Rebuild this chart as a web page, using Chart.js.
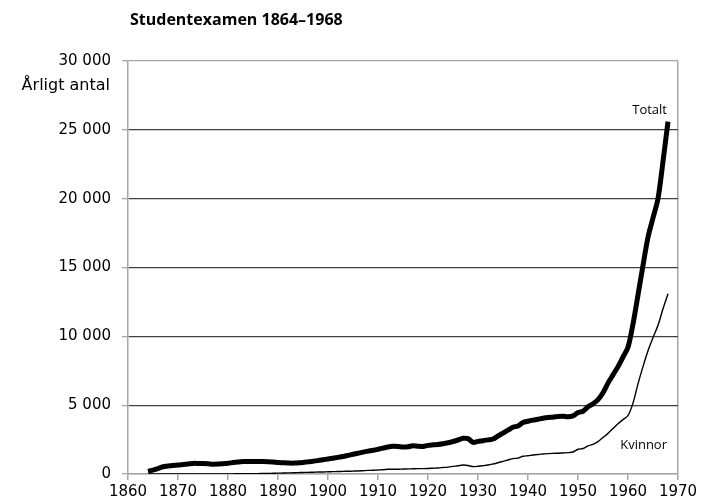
<!DOCTYPE html>
<html>
<head>
<meta charset="utf-8">
<script src="https://cdn.jsdelivr.net/npm/chart.js@4.4.0/dist/chart.umd.min.js"></script>
<style>
  html, body { margin: 0; padding: 0; background: #fff; }
  #wrap { width: 701px; height: 504px; }
</style>
</head>
<body>
<div id="wrap"><canvas id="studentexamen"></canvas></div>
<script>
var years = [];
for (var y = 1864; y <= 1968; y++) years.push(y);

// Totalt, 1864-1968
var totalt = [
  200, 280, 400, 530, 580, 620,
  650, 690, 730, 770, 770, 760, 740, 710, 720, 750,
  780, 830, 870, 900, 900, 900, 900, 900, 890, 870,
  840, 820, 800, 790, 810, 840, 880, 920, 970, 1030,
  1090, 1150, 1210, 1270, 1350, 1430, 1510, 1590, 1660, 1720,
  1800, 1880, 1960, 2010, 2000, 1960, 1980, 2060, 2020, 2000,
  2080, 2120, 2150, 2200, 2270, 2360, 2470, 2590, 2570, 2300,
  2370, 2420, 2480, 2540, 2760, 2970, 3180, 3400, 3490, 3740,
  3830, 3910, 3980, 4050, 4100, 4130, 4180, 4200, 4150, 4220,
  4460, 4560, 4880, 5100, 5400, 5900, 6600, 7200, 7800, 8500,
  9200, 10900, 13000, 15150, 17200, 18600, 20000, 22700, 25600
];

// Kvinnor, 1864-1968
var kvinnor = [
  0, 0, 0, 0, 0, 0,
  0, 1, 3, 5, 5, 6, 6, 7, 8, 9,
  10, 12, 15, 18, 22, 26, 30, 35, 40, 50,
  60, 70, 80, 90, 100, 110, 120, 130, 140, 150,
  160, 170, 180, 190, 200, 210, 220, 240, 260, 270,
  290, 310, 340, 350, 350, 360, 370, 380, 390, 390,
  400, 420, 440, 470, 500, 550, 600, 650, 620, 540,
  560, 600, 650, 730, 820, 920, 1020, 1120, 1150, 1290,
  1330, 1380, 1420, 1450, 1480, 1500, 1510, 1530, 1550, 1600,
  1800, 1850, 2050, 2150, 2350, 2650, 2950, 3300, 3650, 3950,
  4250, 5150, 6550, 7800, 8950, 9900, 10800, 12000, 13100
];

var xTicks = [1860, 1870, 1880, 1890, 1900, 1910, 1920, 1930, 1940, 1950, 1960, 1970];
var yTicks = [0, 5000, 10000, 15000, 20000, 25000, 30000];

function pts(vals) {
  return years.map(function (yr, i) { return { x: yr, y: vals[i] }; });
}

function fmt(v) {
  return String(v).replace(/\B(?=(\d{3})+(?!\d))/g, ' ');
}

var textPlugin = {
  id: 'texter',
  afterDraw: function (chart) {
    var c = chart.ctx, xs = chart.scales.x, ys = chart.scales.y;
    c.save();
    c.fillStyle = '#000';
    c.textBaseline = 'middle';
    c.font = 'bold 16px "Open Sans"';
    c.textAlign = 'left';
    c.fillText('Studentexamen 1864–1968', 130, 20);
    c.font = '16px "DejaVu Sans"';
    c.textAlign = 'right';
    c.fillText('Årligt antal', 110, 86);
    c.font = '13px "Open Sans"';
    var xr = xs.getPixelForValue(1968) - 1;
    c.fillText('Totalt', xr, ys.getPixelForValue(26600) + 2);
    c.fillText('Kvinnor', xr, ys.getPixelForValue(1800) - 4);
    c.restore();
  }
};

new Chart(document.getElementById('studentexamen').getContext('2d'), {
  type: 'line',
  data: {
    datasets: [{
      label: 'Totalt',
      data: pts(totalt),
      borderColor: '#000',
      borderWidth: 5,
      pointRadius: 0,
      tension: 0.3
    }, {
      label: 'Kvinnor',
      data: pts(kvinnor),
      borderColor: '#000',
      borderWidth: 1.4,
      pointRadius: 0,
      tension: 0.3
    }]
  },
  options: {
    responsive: true,
    maintainAspectRatio: false,
    animation: false,
    layout: { padding: { top: 61, right: 23, left: 0, bottom: 0 } },
    plugins: {
      legend: { display: false },
      tooltip: { enabled: false }
    },
    scales: {
      x: {
        type: 'linear',
        min: 1860,
        max: 1970,
        afterBuildTicks: function (s) { s.ticks = xTicks.map(function (v) { return { value: v }; }); },
        ticks: {
          color: '#000',
          font: { family: 'DejaVu Sans', size: 15 },
          padding: 3,
          maxRotation: 0,
          callback: function (v) { return String(v); }
        },
        grid: {
          color: function (ctx) { return ctx.tick && ctx.tick.value === 1970 ? '#a6a6a6' : 'rgba(0,0,0,0)'; },
          tickColor: '#a6a6a6',
          tickLength: 6,
          lineWidth: 1.5
        },
        border: { color: '#a6a6a6', width: 1.5 }
      },
      y: {
        min: 0,
        max: 30000,
        afterBuildTicks: function (s) { s.ticks = yTicks.map(function (v) { return { value: v }; }); },
        afterFit: function (s) { s.width = 128; },
        ticks: {
          color: '#000',
          font: { family: 'DejaVu Sans', size: 15 },
          padding: 11,
          callback: function (v) { return fmt(v); }
        },
        grid: {
          color: function (ctx) {
            var v = ctx.tick && ctx.tick.value;
            return (v === 0 || v === 30000) ? '#a6a6a6' : '#404040';
          },
          tickColor: '#a6a6a6',
          tickLength: 6,
          lineWidth: 1.3
        },
        border: { color: '#a6a6a6', width: 1.5 }
      }
    }
  },
  plugins: [textPlugin]
});
</script>
</body>
</html>
